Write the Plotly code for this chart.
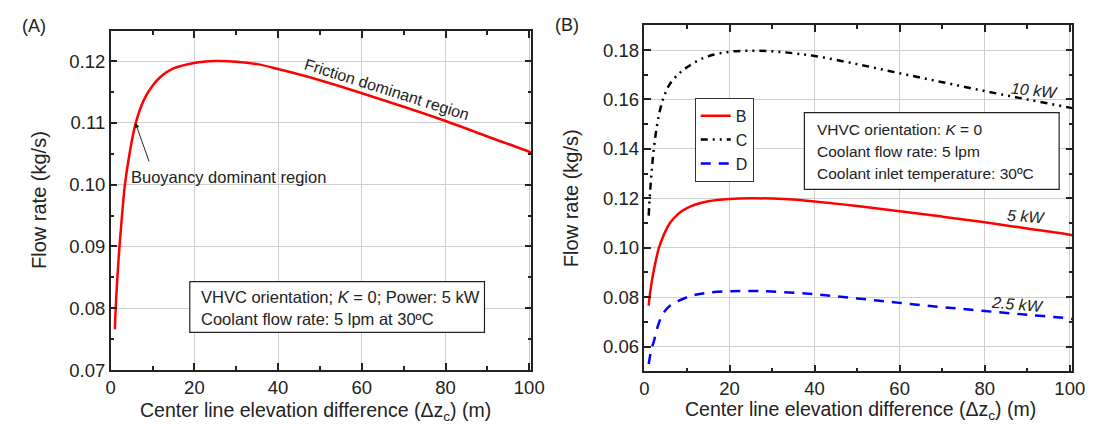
import plotly.graph_objects as go

# ---- data ----
x_b = [1.0, 1.2, 1.6, 2.1, 2.7, 3.4, 4.5, 6, 8, 10, 12, 15, 20, 25, 30, 35, 40, 50, 60, 70, 80, 90, 100, 100.6]
y_b = [0.0766, 0.080, 0.085, 0.090, 0.095, 0.100, 0.105, 0.110, 0.1138, 0.1160, 0.1175, 0.1188, 0.1197, 0.1200,
       0.1199, 0.1195, 0.1187, 0.1169, 0.1148, 0.1126, 0.1103, 0.1078, 0.1053, 0.1051]

x_c = [1.0, 1.3, 1.7, 2.2, 3, 4, 5, 6, 8, 10, 12, 15, 20, 25, 30, 35, 40, 50, 60, 70, 80, 90, 100, 100.6]
y_c = [0.113, 0.122, 0.131, 0.140, 0.150, 0.158, 0.1630, 0.1663, 0.1703, 0.1730, 0.1752, 0.1775, 0.1793, 0.1797,
       0.1795, 0.1787, 0.1776, 0.1743, 0.1706, 0.1670, 0.1634, 0.1600, 0.1567, 0.1565]

x_d = [1.0, 1.3, 1.7, 2.2, 3, 4, 5, 6, 8, 10, 12, 15, 20, 25, 30, 40, 50, 60, 70, 80, 90, 100, 100.6]
y_d = [0.053, 0.056, 0.0595, 0.062, 0.0675, 0.0722, 0.0748, 0.0765, 0.0785, 0.0800, 0.0810, 0.0818, 0.0824,
       0.0825, 0.0823, 0.0812, 0.0795, 0.0777, 0.0760, 0.0744, 0.0729, 0.0714, 0.0712]

series_names = ["B", "C", "D"]
power_labels = ["5 kW", "10 kW", "2.5 kW"]
x_ticks = [0, 20, 40, 60, 80, 100]
y_ticks_a = [0.07, 0.08, 0.09, 0.10, 0.11, 0.12]
y_ticks_b = [0.06, 0.08, 0.10, 0.12, 0.14, 0.16, 0.18]

FONT = "Liberation Sans, Arial, sans-serif"
TXT = "#222222"
GRID = "#cfcfcf"

fig = go.Figure()

# Panel A
fig.add_trace(go.Scatter(x=x_b, y=y_b, mode="lines", line=dict(color="#ff0000", width=2.5, shape="spline"),
                         showlegend=False, xaxis="x", yaxis="y"))
# Panel B
fig.add_trace(go.Scatter(x=x_b, y=y_b, mode="lines", name=series_names[0],
                         line=dict(color="#ff0000", width=2.5, shape="spline"), xaxis="x2", yaxis="y2"))
fig.add_trace(go.Scatter(x=x_c, y=y_c, mode="lines", name=series_names[1],
                         line=dict(color="#000000", width=2.5, shape="spline", dash="7px,5px,2px,5px,2px,5px"),
                         xaxis="x2", yaxis="y2"))
fig.add_trace(go.Scatter(x=x_d, y=y_d, mode="lines", name=series_names[2],
                         line=dict(color="#0000ff", width=2.5, shape="spline", dash="10px,8px"),
                         xaxis="x2", yaxis="y2"))

axis_common = dict(showline=True, linecolor="#222222", linewidth=1.5, mirror="ticks",
                   ticks="inside", ticklen=7, tickwidth=1.5, tickcolor="#222222",
                   showgrid=True, gridcolor=GRID, gridwidth=1.3, zeroline=False,
                   tickfont=dict(family=FONT, size=18.5, color=TXT))

fig.update_layout(
    width=1095, height=430,
    margin=dict(l=0, r=0, t=0, b=0),
    paper_bgcolor="white", plot_bgcolor="white",
    font=dict(family=FONT, color=TXT),
    xaxis=dict(domain=[0.0907, 0.4813], range=[0, 100.5], tickvals=x_ticks,
               minor=dict(ticks="inside", ticklen=4, dtick=10, tickcolor="#222222", showgrid=False),
               anchor="y", **axis_common),
    yaxis=dict(domain=[0.1379, 0.9458], range=[0.07, 0.1249], tickvals=y_ticks_a, tickformat=".2f",
               minor=dict(ticks="inside", ticklen=4, dtick=0.005, tickcolor="#222222", showgrid=False),
               anchor="x", **axis_common),
    xaxis2=dict(domain=[0.5863, 0.9836], range=[0, 100.6], tickvals=x_ticks,
                minor=dict(ticks="inside", ticklen=4, dtick=10, tickcolor="#222222", showgrid=False),
                anchor="y2", **axis_common),
    yaxis2=dict(domain=[0.1349, 0.9588], range=[0.05, 0.19], tickvals=y_ticks_b, tickformat=".2f",
                minor=dict(ticks="inside", ticklen=4, dtick=0.01, tickcolor="#222222", showgrid=False),
                anchor="x2", **axis_common),
    legend=dict(x=0.633, y=0.786, xanchor="left", yanchor="top", bgcolor="white",
                bordercolor="#333333", borderwidth=1, font=dict(family=FONT, size=16, color=TXT),
                itemwidth=30, tracegroupgap=0),
)

annos = []
# panel labels
annos.append(dict(xref="paper", yref="paper", x=21/1095, y=1-18/430, text="(A)", showarrow=False,
                  font=dict(size=18), xanchor="center", yanchor="middle"))
annos.append(dict(xref="paper", yref="paper", x=563/1095, y=1-17/430, text="(B)", showarrow=False,
                  font=dict(size=18), xanchor="center", yanchor="middle"))
# axis titles
xtitle = "Center line elevation difference (Δz<sub>c</sub>) (m)"
annos.append(dict(xref="paper", yref="paper", x=308/1095, y=1-413/430, text=xtitle, showarrow=False,
                  font=dict(size=19.5), xanchor="center", yanchor="middle"))
annos.append(dict(xref="paper", yref="paper", x=862/1095, y=1-412/430, text=xtitle, showarrow=False,
                  font=dict(size=19.5), xanchor="center", yanchor="middle"))
annos.append(dict(xref="paper", yref="paper", x=27/1095, y=1-197/430, text="Flow rate (kg/s)", showarrow=False,
                  textangle=-90, font=dict(size=20), xanchor="center", yanchor="middle"))
annos.append(dict(xref="paper", yref="paper", x=568/1095, y=1-195/430, text="Flow rate (kg/s)", showarrow=False,
                  textangle=-90, font=dict(size=20), xanchor="center", yanchor="middle"))
# panel A texts
annos.append(dict(xref="x", yref="y", x=66.0, y=0.1154, text="Friction dominant region", showarrow=False,
                  textangle=17.5, font=dict(size=16)))
annos.append(dict(xref="x", yref="y", x=28.2, y=0.1013, text="Buoyancy dominant region", showarrow=False,
                  font=dict(size=16.5)))
annos.append(dict(xref="x", yref="y", x=5.9, y=0.1100, axref="x", ayref="y", ax=9.3, ay=0.1035, text="",
                  showarrow=True, arrowhead=2, arrowsize=1, arrowwidth=1, arrowcolor="#222222"))
annos.append(dict(xref="x", yref="y", x=21.0, y=0.0818, text="VHVC orientation; <i>K</i> = 0; Power: 5 kW",
                  showarrow=False, xanchor="left", font=dict(size=16.5)))
annos.append(dict(xref="x", yref="y", x=21.0, y=0.0783, text="Coolant flow rate: 5 lpm at 30ºC",
                  showarrow=False, xanchor="left", font=dict(size=16.5)))
# panel B texts
annos.append(dict(xref="x2", yref="y2", x=40.0, y=0.1478, text="VHVC orientation: <i>K</i> = 0",
                  showarrow=False, xanchor="left", font=dict(size=15.5)))
annos.append(dict(xref="x2", yref="y2", x=40.0, y=0.1390, text="Coolant flow rate: 5 lpm",
                  showarrow=False, xanchor="left", font=dict(size=15.5)))
annos.append(dict(xref="x2", yref="y2", x=40.0, y=0.1300, text="Coolant inlet temperature: 30ºC",
                  showarrow=False, xanchor="left", font=dict(size=15.5)))
label_pos = [(89.7, 0.1125, 4), (91.8, 0.1638, 6), (87.7, 0.0769, 5)]
for lab, (lx, ly, ang) in zip(power_labels, label_pos):
    annos.append(dict(xref="x2", yref="y2", x=lx, y=ly, text="<i>" + lab + "</i>", showarrow=False,
                      textangle=ang, font=dict(size=16)))
fig.update_layout(annotations=annos)

# boxes
fig.add_shape(type="rect", xref="x", yref="y", x0=18.9, x1=89.3, y0=0.0761, y1=0.0843,
              line=dict(color="#222222", width=1.2), fillcolor="white", layer="above")
fig.add_shape(type="rect", xref="x2", yref="y2", x0=37.6, x1=97.5, y0=0.1236, y1=0.1547,
              line=dict(color="#222222", width=1.2), fillcolor="white", layer="above")

fig.write_html("out.html")
